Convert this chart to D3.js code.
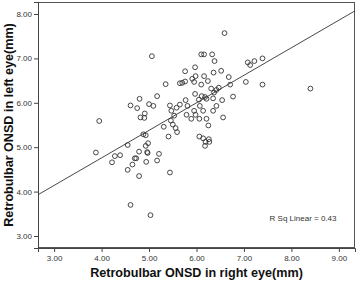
<!DOCTYPE html>
<html>
<head>
<meta charset="utf-8">
<script src="https://cdn.jsdelivr.net/npm/d3@7"></script>
<style>
  body { margin: 0; background: #fff; }
  svg { display: block; }
  .tick text { font-family: "Liberation Sans", Arial, sans-serif; font-size: 8px; fill: #333; }
  .title { font-family: "Liberation Sans", Arial, sans-serif; font-size: 12.6px; font-weight: bold; fill: #111; }
</style>
</head>
<body>
<div id="chart"></div>
<script>
// right eye ONSD (mm)
const rightEye = [
  3.88, 3.95, 4.22, 4.28, 4.39, 4.55, 4.55, 4.61, 4.65, 4.70,
  4.73, 4.79, 4.79, 4.93, 4.98, 4.96, 4.97, 4.94, 5.17, 5.21,
  5.44, 5.03, 4.88, 4.93, 5.06, 4.80, 4.61, 4.75, 5.00, 5.09,
  5.17, 4.91, 4.82, 4.90, 5.35, 5.65, 5.44, 5.47, 5.58, 5.53,
  5.46, 5.31, 5.50, 5.56, 5.59, 5.41, 6.59, 6.10, 6.16, 6.33,
  6.38, 7.08, 7.13, 7.22, 7.39, 5.97, 5.76, 6.36, 6.52, 5.98,
  5.91, 6.16, 6.68, 5.76, 5.95, 6.24, 5.70, 6.10, 6.71, 7.04,
  7.39, 8.40, 6.31, 6.47, 6.42, 6.37, 5.97, 6.11, 6.18, 6.77,
  5.77, 6.35, 6.05, 6.21, 6.54, 5.65, 5.81, 6.07, 6.42, 5.95,
  6.14, 6.35, 5.79, 5.98, 5.89, 6.06, 6.21, 6.56, 6.25, 6.06,
  6.14, 6.26, 6.19, 6.27, 6.18
];
// left eye ONSD (mm)
const leftEye = [
  4.88, 5.59, 4.66, 4.80, 4.82, 5.05, 4.49, 3.70, 4.61, 4.75,
  4.75, 4.90, 4.35, 5.03, 5.09, 4.89, 4.87, 4.67, 4.70, 4.85,
  4.43, 3.47, 5.29, 5.27, 7.05, 6.09, 5.94, 5.88, 5.97, 5.93,
  6.15, 5.76, 5.67, 5.66, 6.42, 6.44, 5.94, 5.82, 5.89, 5.71,
  5.60, 5.46, 5.51, 5.43, 5.34, 5.24, 7.57, 7.09, 7.09, 7.09,
  6.94, 6.91, 6.85, 6.94, 7.00, 6.80, 6.71, 6.68, 6.72, 6.60,
  6.54, 6.60, 6.58, 6.48, 6.47, 6.49, 6.45, 6.41, 6.41, 6.47,
  6.41, 6.32, 6.32, 6.34, 6.29, 6.23, 6.20, 6.15, 6.13, 6.14,
  6.06, 6.10, 6.07, 6.09, 6.06, 5.96, 5.93, 5.93, 5.93, 5.82,
  5.82, 5.82, 5.73, 5.73, 5.64, 5.64, 5.64, 5.67, 5.49, 5.24,
  5.20, 5.18, 5.12, 5.12, 5.03
];
const xTicks = [3, 4, 5, 6, 7, 8, 9];
const yTicks = [3, 4, 5, 6, 7, 8];
// fit line
const fitIntercept = 2.28;
const fitSlope = 0.62;
const rSqLabel = "R Sq Linear = 0.43";

const width = 358, height = 281;
const margin = { top: 2, right: 3, bottom: 33, left: 38 };

const svg = d3.select("#chart").append("svg")
  .attr("width", width)
  .attr("height", height);

const x = d3.scaleLinear().domain([2.66, 9.34]).range([margin.left, width - margin.right]);
const y = d3.scaleLinear().domain([2.73, 8.27]).range([height - margin.bottom, margin.top]);

// frame
svg.append("rect")
  .attr("x", margin.left + 0.5)
  .attr("y", margin.top + 0.5)
  .attr("width", width - margin.right - margin.left - 1)
  .attr("height", height - margin.bottom - margin.top - 1)
  .attr("fill", "none")
  .attr("stroke", "#555")
  .attr("stroke-width", 1);

const xAxis = svg.append("g")
  .attr("transform", "translate(0," + (height - margin.bottom) + ")")
  .call(d3.axisBottom(x).tickValues(xTicks).tickFormat(d3.format(".2f")).tickSize(4).tickPadding(3));

const yAxis = svg.append("g")
  .attr("transform", "translate(" + margin.left + ",0)")
  .call(d3.axisLeft(y).tickValues(yTicks).tickFormat(d3.format(".2f")).tickSize(4).tickPadding(2));

[xAxis, yAxis].forEach(g => {
  g.select(".domain").attr("stroke", "#444");
  g.selectAll(".tick line").attr("stroke", "#444");
});

svg.append("clipPath").attr("id", "plot-clip")
  .append("rect")
  .attr("x", margin.left)
  .attr("y", margin.top)
  .attr("width", width - margin.right - margin.left)
  .attr("height", height - margin.bottom - margin.top);

// fit line
const x0 = x.domain()[0], x1 = x.domain()[1];
svg.append("line")
  .attr("clip-path", "url(#plot-clip)")
  .attr("x1", x(x0)).attr("y1", y(fitIntercept + fitSlope * x0))
  .attr("x2", x(x1)).attr("y2", y(fitIntercept + fitSlope * x1))
  .attr("stroke", "#333")
  .attr("stroke-width", 0.9);

// points
svg.append("g").selectAll("circle")
  .data(d3.zip(rightEye, leftEye))
  .enter().append("circle")
  .attr("cx", d => x(d[0]))
  .attr("cy", d => y(d[1]))
  .attr("r", 2.4)
  .attr("fill", "none")
  .attr("stroke", "#333")
  .attr("stroke-width", 0.9);

svg.append("text")
  .attr("x", x(8.95))
  .attr("y", y(3.38))
  .attr("text-anchor", "end")
  .attr("dominant-baseline", "middle")
  .style("font-family", "'Liberation Sans', Arial, sans-serif")
  .style("font-size", "8px")
  .style("fill", "#333")
  .text(rSqLabel);

// axis titles
svg.append("text")
  .attr("class", "title")
  .attr("x", (margin.left + width - margin.right) / 2)
  .attr("y", 277)
  .attr("text-anchor", "middle")
  .text("Retrobulbar ONSD in right eye(mm)");

svg.append("text")
  .attr("class", "title")
  .attr("transform", "translate(13," + ((margin.top + height - margin.bottom) / 2) + ") rotate(-90)")
  .attr("text-anchor", "middle")
  .text("Retrobulbar ONSD in left eye(mm)");
</script>
</body>
</html>
